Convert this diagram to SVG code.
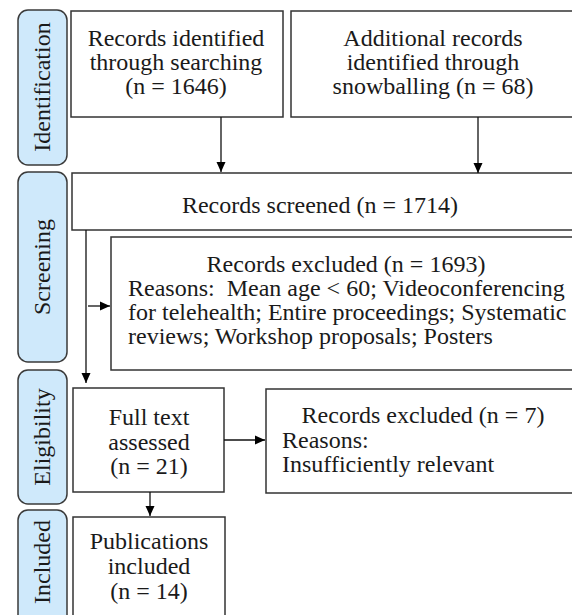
<svg xmlns="http://www.w3.org/2000/svg" width="572" height="615" viewBox="0 0 572 615">
<defs>
<style>
.lab{fill:#cfe9fb;stroke:#3a3a3a;stroke-width:1.5}
.box{fill:#ffffff;stroke:#333333;stroke-width:1.5}
text{font-family:"Liberation Serif","DejaVu Serif",serif;font-size:24px;fill:#1a1a1a}
.m{text-anchor:middle}
.con{stroke:#111;stroke-width:1.3;fill:none}
</style>
<marker id="ah" viewBox="0 0 10 10" refX="10" refY="5" markerWidth="10" markerHeight="10" markerUnits="userSpaceOnUse" orient="auto">
<path d="M0,0.5 L10,5 L0,9.5 z" fill="#000"/>
</marker>
</defs>
<rect width="572" height="615" fill="#ffffff"/>

<g id="label-identification">
<rect class="lab" x="18" y="10" width="49" height="155" rx="10"/>
<text class="m" transform="translate(50,87) rotate(-90)">Identification</text>
</g>
<g id="label-screening">
<rect class="lab" x="18" y="172" width="49" height="190" rx="10"/>
<text class="m" transform="translate(50,267) rotate(-90)">Screening</text>
</g>
<g id="label-eligibility">
<rect class="lab" x="18" y="370" width="49" height="134" rx="10"/>
<text class="m" transform="translate(50,437) rotate(-90)">Eligibility</text>
</g>
<g id="label-included">
<rect class="lab" x="18" y="510" width="49" height="120" rx="10"/>
<text class="m" transform="translate(50,562) rotate(-90)">Included</text>
</g>

<g id="node-searching">
<rect class="box" x="71" y="11" width="212" height="106"/>
<text class="m" x="176" y="46">Records identified</text>
<text class="m" x="176" y="70">through searching</text>
<text class="m" x="176" y="94">(n = 1646)</text>
</g>
<g id="node-snowballing">
<rect class="box" x="291" y="11" width="300" height="106"/>
<text class="m" x="433" y="46">Additional records</text>
<text class="m" x="433" y="70">identified through</text>
<text class="m" x="433" y="94">snowballing (n = 68)</text>
</g>
<g id="node-screened">
<rect class="box" x="72" y="173" width="520" height="57"/>
<text class="m" x="320" y="213">Records screened (n = 1714)</text>
</g>
<g id="node-excluded1">
<rect class="box" x="111" y="237" width="480" height="133"/>
<text class="m" x="346" y="272">Records excluded (n = 1693)</text>
<text x="128" y="296" xml:space="preserve">Reasons:  Mean age &lt; 60; Videoconferencing</text>
<text x="128" y="320">for telehealth; Entire proceedings; Systematic</text>
<text x="128" y="344">reviews; Workshop proposals; Posters</text>
</g>
<g id="node-fulltext">
<rect class="box" x="73" y="388" width="151" height="104"/>
<text class="m" x="149" y="425">Full text</text>
<text class="m" x="149" y="450">assessed</text>
<text class="m" x="149" y="474">(n = 21)</text>
</g>
<g id="node-excluded2">
<rect class="box" x="266" y="389" width="325" height="104"/>
<text class="m" x="423" y="423">Records excluded (n = 7)</text>
<text x="282" y="448">Reasons:</text>
<text x="282" y="472">Insufficiently relevant</text>
</g>
<g id="node-included">
<rect class="box" x="73" y="517" width="152" height="110"/>
<text class="m" x="149" y="549">Publications</text>
<text class="m" x="149" y="574">included</text>
<text class="m" x="149" y="599">(n = 14)</text>
</g>

<g id="connectors">
<line class="con" x1="221" y1="117" x2="221" y2="172" marker-end="url(#ah)"/>
<line class="con" x1="478" y1="117" x2="478" y2="173" marker-end="url(#ah)"/>
<line class="con" x1="86" y1="230" x2="86" y2="383" marker-end="url(#ah)"/>
<line class="con" x1="88" y1="306" x2="110" y2="306" marker-end="url(#ah)"/>
<line class="con" x1="224" y1="440" x2="265" y2="440" marker-end="url(#ah)"/>
<line class="con" x1="150" y1="492" x2="150" y2="516" marker-end="url(#ah)"/>
</g>
</svg>
